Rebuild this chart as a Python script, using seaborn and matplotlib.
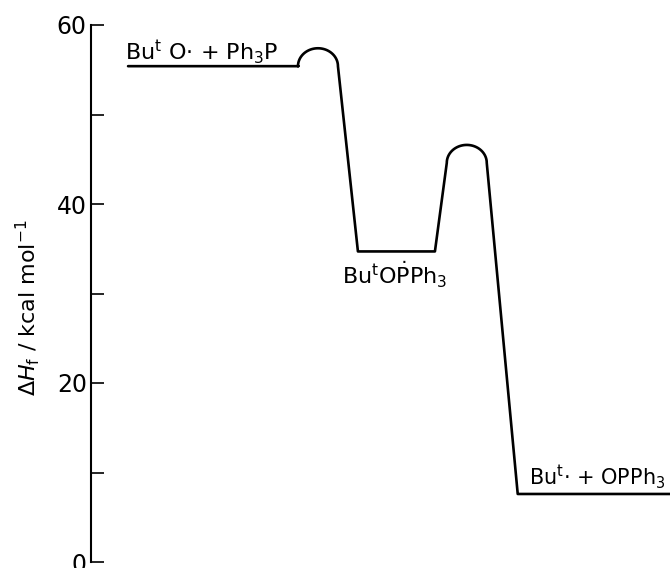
import numpy as np
import matplotlib
matplotlib.use("Agg")
import matplotlib.pyplot as plt
import seaborn as sns
import pandas as pd

# ---- data (reaction coordinate in arbitrary units 0-100, energy in kcal/mol)
state_labels = ["Bu$^{\\rm t}$ O\u00b7 + Ph$_3$P",
                r"Bu$^{\rm t}$O$\dot{\rm P}$Ph$_3$",
                "Bu$^{\\rm t}$\u00b7 + OPPh$_3$"]
state_energy = [55.4, 34.7, 7.6]
state_start = [6.4, 46.1, 73.7]
state_end = [35.8, 59.4, 100.0]
ts_top = [57.4, 46.6]
ts_base = [55.4, 44.6]
ts_center = [39.2, 64.9]
ts_halfwidth = [3.45, 3.45]
yticks_major = [0, 20, 40, 60]
yticks_minor = [10, 30, 50]

sns.set_style("ticks")
plt.rcParams["font.family"] = ["DejaVu Sans"]
plt.rcParams["mathtext.fontset"] = "dejavusans"
for k in ["text.color", "axes.labelcolor", "xtick.color", "ytick.color",
          "axes.edgecolor"]:
    plt.rcParams[k] = "black"

# build the profile path from the arrays
xs, ys = [], []
for i in range(len(state_energy)):
    xs += [state_start[i], state_end[i]]
    ys += [state_energy[i], state_energy[i]]
    if i < len(ts_top):
        th = np.linspace(np.pi, 0, 60)
        xs += list(ts_center[i] + ts_halfwidth[i] * np.cos(th))
        ys += list(ts_base[i] + (ts_top[i] - ts_base[i]) * np.sin(th))
df = pd.DataFrame({"x": xs, "y": ys})

fig = plt.figure(figsize=(6.7, 5.68), dpi=100)
ax = fig.add_axes([91 / 670, 6 / 568, 579 / 670, 537 / 568])
sns.lineplot(data=df, x="x", y="y", sort=False, estimator=None,
             color="black", linewidth=1.9, ax=ax)
for sp in ["top", "right", "bottom"]:
    ax.spines[sp].set_visible(False)
ax.spines["left"].set_linewidth(1.5)
ax.set_xlim(0, 100)
ax.set_ylim(0, 60)
ax.set_xticks([])
ax.set_yticks(yticks_major)
ax.set_yticks(yticks_minor, minor=True)
ax.tick_params(axis="y", which="both", direction="in", length=9.5, width=1.2,
               labelsize=17, pad=3, colors="black")
ax.set_xlabel("")
ax.set_ylabel(r"$\Delta H_{\rm f}$ / kcal mol$^{-1}$", fontsize=16)
ax.yaxis.set_label_coords(-0.085, 0.473)

# state labels
ax.text(5.9, 56.0, state_labels[0], fontsize=16, ha="left", va="baseline")
ax.text(43.3, 31.0, state_labels[1], fontsize=16, ha="left", va="baseline")
ax.text(75.6, 8.6, state_labels[2], fontsize=15, ha="left", va="baseline",
        clip_on=False)

fig.savefig("out.png", dpi=100)
